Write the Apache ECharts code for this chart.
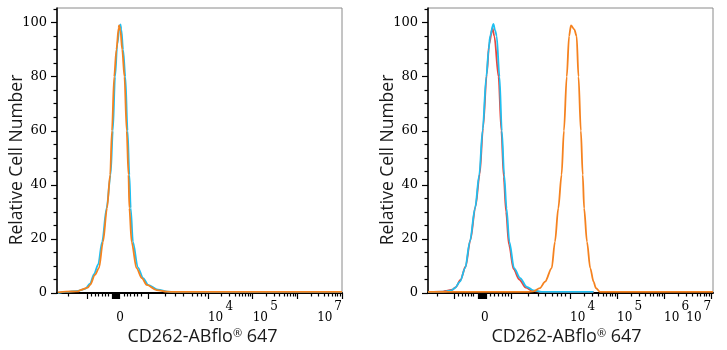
<!DOCTYPE html>
<html>
<head>
<meta charset="utf-8">
<script src="https://cdn.jsdelivr.net/npm/echarts@6/dist/echarts.min.js"></script>
<style>html,body{margin:0;padding:0;background:#fff;}#c{width:727px;height:350px;}</style>
</head>
<body>
<div id="c"></div>
<script>
// ---- Data (x in display "decade" units of the biexponential axis, y = relative cell number) ----
const leftCyan = [[0.64,0],[0.82,0.4],[1.09,0.8],[1.25,1.5],[1.36,3.5],[1.45,7],[1.54,10.5],[1.63,18.9],[1.73,31.4],[1.82,43.7],[1.87,60],[1.92,80],[1.97,92],[2.02,98.5],[2.04,99.3],[2.06,97.5],[2.10,90],[2.15,80],[2.20,60],[2.24,43.7],[2.27,31.4],[2.32,18.9],[2.43,9.5],[2.55,5.5],[2.66,3],[2.88,1.2],[3.10,0.5],[3.28,0.4],[7,0.4]];
const leftOrange = [[0.64,0.2],[0.82,0.5],[1.09,0.6],[1.14,1.1],[1.31,2.0],[1.36,3.0],[1.47,6.7],[1.56,9.2],[1.65,18.9],[1.74,31.4],[1.81,43.7],[1.85,60],[1.90,80],[1.95,90],[2.00,98],[2.01,99],[2.04,97],[2.08,90],[2.13,80],[2.18,60],[2.22,43.7],[2.24,31.4],[2.29,18.9],[2.40,9.2],[2.52,5.5],[2.63,3],[2.85,1.1],[3.08,0.5],[3.26,0.4],[7,0.4]];
const rightRed = [[0.98,0.4],[1.30,0.5],[1.34,0.8],[1.50,1.2],[1.57,2.2],[1.67,4.8],[1.78,9.8],[1.88,19.5],[1.99,32],[2.08,44],[2.15,61],[2.23,81],[2.28,92],[2.35,98],[2.39,95],[2.48,80],[2.54,60],[2.59,43],[2.64,30],[2.70,18],[2.80,8.8],[2.92,5],[3.06,2],[3.20,0.8],[3.40,0.4],[4.5,0.4]];
const rightCyan = [[0.98,0.4],[1.35,0.5],[1.48,1.0],[1.55,1.8],[1.66,4.2],[1.77,9.2],[1.87,19],[1.98,31.3],[2.07,43.7],[2.14,60],[2.22,80],[2.27,90],[2.30,95],[2.37,99.5],[2.41,97],[2.44,95],[2.50,80],[2.55,60],[2.60,43.7],[2.65,31.3],[2.71,19],[2.81,9.2],[2.94,5.5],[3.08,2.3],[3.22,1.0],[3.40,0.4],[4.5,0.4]];
const rightOrange = [[0.98,0.4],[3.10,0.4],[3.22,0.6],[3.36,1.8],[3.47,4.2],[3.61,9.2],[3.68,19],[3.75,31.3],[3.82,43.7],[3.87,60],[3.93,80],[3.98,95],[4.02,99],[4.09,97.5],[4.14,95],[4.18,80],[4.23,60],[4.27,43.7],[4.30,31.3],[4.36,19],[4.43,9.2],[4.50,4.2],[4.55,1.8],[4.64,0.4],[7.04,0.4]];

// ---- Axis definitions ----
const xTitle = 'CD262-ABflo® 647';
const yTitle = 'Relative Cell Number';
const yLabelValues = [0, 20, 40, 60, 80, 100];
const yMinorValues = [5,10,15,25,30,35,45,50,55,65,70,75,85,90,95,105];

const leftRange = [0.62, 7];
const leftMajorTicks = [1.29,1.85,1.87,1.89,1.91,1.93,1.95,1.97,1.99,2.01,2.66,4,5,6,7];
const leftMinorTicks = [0.87,1.38,1.47,1.54,1.63,1.70,1.76,2.12,2.19,2.26,2.35,2.41,2.50,3.04,3.26,3.44,3.64,3.75,3.84,3.93];
const leftZeroLabel = [2.03];
const leftLeftLabels = [4, 5];
const leftRightLabels = [7];

const rightRange = [0.98, 7.04];
const rightMajorTicks = [1.53,2.05,2.08,2.10,2.12,2.14,2.16,2.18,2.20,2.22,2.74,4,5,6,7];
const rightMinorTicks = [1.17,1.62,1.70,1.77,1.83,1.89,1.95,2.30,2.38,2.47,2.55,2.62,2.68,3.11,3.32,3.47,3.62,3.72,3.81,3.89];
const rightZeroLabel = [2.19];
const rightLeftLabels = [4, 5, 6];
const rightRightLabels = [7];

const tickLabelValues = [0, 4, 5, 6, 7];
const tickLabelTexts = ['0', '10^4', '10^5', '10^6', '10^7'];

// log decade minor ticks (2..9 x 10^n)
function decadeTicks(from, to) {
  const out = [];
  for (let d = from; d < to; d++) for (let k = 2; k <= 9; k++) out.push(d + Math.log10(k));
  return out;
}
const leftMinorAll = leftMinorTicks.concat(decadeTicks(4, 7));
const rightMinorAll = rightMinorTicks.concat(decadeTicks(4, 7));

const serif = 'DejaVu Serif';
const sans = 'Open Sans';
const TXT = '#1a1a1a';
const rich = {
  b: {fontFamily: serif, fontSize: 12, color: '#000', lineHeight: 14},
  br: {fontFamily: serif, fontSize: 12, color: '#000', lineHeight: 14, padding: [0, 9.5, 0, 0]},
  s: {fontFamily: serif, fontSize: 12, color: '#000', lineHeight: 8, padding: [0, 0, 0, 17.5]},
  sr: {fontFamily: serif, fontSize: 12, color: '#000', lineHeight: 8}
};
function labelText(v) {
  const idx = tickLabelValues.findIndex(t => Math.abs(t - v) < 1e-6);
  return idx < 0 ? '' : tickLabelTexts[idx];
}
function fmtPow(v, right) {
  const t = labelText(v).split('^');
  if (t.length < 2) return '{b|' + t[0] + '}';
  return right ? '{sr|' + t[1] + '}\n{br|' + t[0] + '}' : '{s|' + t[1] + '}\n{b|' + t[0] + '}';
}

function xAxesFor(g, range, major, minor, zeroL, leftL, rightL, namePad) {
  const base = {type: 'value', gridIndex: g, min: range[0], max: range[1], position: 'bottom', splitLine: {show: false}};
  const noLine = {axisLine: {show: false}, axisTick: {show: false}};
  return [
    Object.assign({}, base, {
      axisLine: {show: true, lineStyle: {color: '#000', width: 2}},
      axisTick: {show: true, customValues: major, length: 6, lineStyle: {color: '#000', width: 1.2}},
      axisLabel: {show: false},
      name: xTitle.replace('®', '{r|®}'), nameLocation: 'middle', nameGap: 35,
      nameTextStyle: {fontFamily: sans, fontSize: 18, color: TXT, padding: namePad,
        rich: {r: {fontFamily: sans, fontSize: 11, color: TXT, lineHeight: 12, verticalAlign: 'top'}}}
    }),
    Object.assign({}, base, {
      axisLine: {show: false},
      axisTick: {show: true, customValues: minor, length: 3.5, lineStyle: {color: '#000', width: 1.2}},
      axisLabel: {show: false}
    }),
    Object.assign({}, base, noLine, {
      axisLabel: {show: true, customValues: zeroL, align: 'center', margin: 18, hideOverlap: false, formatter: v => '{b|' + tickLabelTexts[0] + '}', rich: rich}
    }),
    Object.assign({}, base, noLine, {
      axisLabel: {show: true, customValues: leftL, align: 'left', margin: 10, hideOverlap: false, formatter: v => fmtPow(v, false), rich: rich}
    }),
    Object.assign({}, base, noLine, {
      axisLabel: {show: true, customValues: rightL, align: 'right', margin: 10, hideOverlap: false, formatter: v => fmtPow(v, true), rich: rich}
    })
  ];
}
function yAxesFor(g) {
  const base = {type: 'value', gridIndex: g, min: 0, max: 105.4, position: 'left', splitLine: {show: false}};
  return [
    Object.assign({}, base, {
      axisLine: {show: true, lineStyle: {color: '#000', width: 1.5}},
      axisTick: {show: true, customValues: yLabelValues, length: 6, lineStyle: {color: '#000', width: 1.2}},
      axisLabel: {show: true, customValues: yLabelValues, margin: 10, fontFamily: serif, fontSize: 13, color: '#000'},
      name: yTitle, nameLocation: 'middle', nameGap: 31, nameMoveOverlap: false,
      nameTextStyle: {fontFamily: sans, fontSize: 17.5, color: TXT, padding: [0, 19, 0, 0]}
    }),
    Object.assign({}, base, {
      axisLine: {show: false},
      axisTick: {show: true, customValues: yMinorValues, length: 3.5, lineStyle: {color: '#000', width: 1.2}},
      axisLabel: {show: false}
    })
  ];
}
function line(data, color, xi, yi, z) {
  return {type: 'line', data: data, xAxisIndex: xi, yAxisIndex: yi, symbol: 'none', smooth: 0.3, smoothMonotone: 'x',
    lineStyle: {color: color, width: 1.8}, itemStyle: {color: color}, z: z, silent: true, animation: false};
}
const ORANGE = '#f5821f', CYAN = '#20bff0', RED = '#e8473f';

const option = {
  animation: false,
  backgroundColor: '#fff',
  grid: [
    {left: 57, right: 385, top: 8, bottom: 57, show: true, borderColor: '#8a8a8a', borderWidth: 1, outerBoundsMode: 'none'},
    {left: 428, right: 14, top: 8, bottom: 57, show: true, borderColor: '#8a8a8a', borderWidth: 1, outerBoundsMode: 'none'}
  ],
  xAxis: xAxesFor(0, leftRange, leftMajorTicks, leftMinorAll, leftZeroLabel, leftLeftLabels, leftRightLabels, [0, 0, 0, 6])
    .concat(xAxesFor(1, rightRange, rightMajorTicks, rightMinorAll, rightZeroLabel, rightLeftLabels, rightRightLabels, [0, 8, 0, 0])),
  yAxis: yAxesFor(0).concat(yAxesFor(1)),
  series: [
    line(leftCyan, CYAN, 0, 0, 3),
    line(leftOrange, ORANGE, 0, 0, 4),
    line(rightRed, RED, 5, 2, 3),
    line(rightCyan, CYAN, 5, 2, 4),
    line(rightOrange, ORANGE, 5, 2, 5)
  ]
};
const chart = echarts.init(document.getElementById('c'), null, {renderer: 'canvas'});
chart.setOption(option);
</script>
</body>
</html>
